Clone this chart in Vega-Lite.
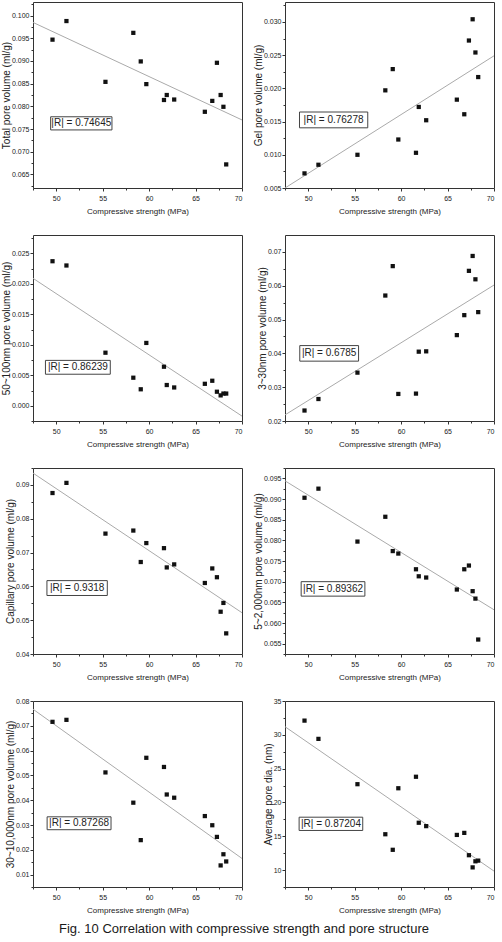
{
  "$schema": "https://vega.github.io/schema/vega-lite/v6.json",
  "padding": {"left": 0, "top": 1, "right": 5, "bottom": 0},
  "background": "white",
  "bounds": "flush",
  "columns": 2,
  "spacing": {"row": 47, "column": 43},
  "title": {"text": "Fig. 10 Correlation with compressive strength and pore structure", "orient": "bottom", "anchor": "middle", "fontSize": 13, "fontWeight": "normal", "font": "Liberation Sans", "color": "#1a1a1a", "offset": 8, "dx": -4},
  "config": {
    "view": {"stroke": "#333", "strokeWidth": 1},
    "axis": {"grid": false, "domain": false, "tickColor": "#333", "tickSize": 3, "labelFont": "Liberation Sans", "labelFontSize": 7, "labelColor": "#222", "labelPadding": 1, "titleFont": "Liberation Sans", "titleFontSize": 10, "titleFontWeight": "normal", "titleColor": "#222", "titlePadding": 0},
    "axisX": {"titleFontSize": 8, "titlePadding": 6, "labelPadding": 3}
  },
  "datasets": {
    "points": [
      {"panel": "total", "strength": 49.6, "value": 0.0947}, {"panel": "total", "strength": 51.1, "value": 0.0988}, {"panel": "total", "strength": 55.3, "value": 0.0854}, {"panel": "total", "strength": 58.3, "value": 0.0962}, {"panel": "total", "strength": 59.1, "value": 0.0899}, {"panel": "total", "strength": 59.7, "value": 0.0849}, {"panel": "total", "strength": 61.6, "value": 0.0814}, {"panel": "total", "strength": 61.9, "value": 0.0825}, {"panel": "total", "strength": 62.7, "value": 0.0815}, {"panel": "total", "strength": 66.0, "value": 0.0788}, {"panel": "total", "strength": 66.8, "value": 0.0812}, {"panel": "total", "strength": 67.3, "value": 0.0896}, {"panel": "total", "strength": 67.7, "value": 0.0825}, {"panel": "total", "strength": 68.0, "value": 0.0799}, {"panel": "total", "strength": 68.3, "value": 0.0672},
      {"panel": "gel", "strength": 49.6, "value": 0.0072}, {"panel": "gel", "strength": 51.1, "value": 0.0085}, {"panel": "gel", "strength": 55.3, "value": 0.0100}, {"panel": "gel", "strength": 58.3, "value": 0.0197}, {"panel": "gel", "strength": 59.1, "value": 0.0229}, {"panel": "gel", "strength": 59.7, "value": 0.0123}, {"panel": "gel", "strength": 61.6, "value": 0.0103}, {"panel": "gel", "strength": 61.9, "value": 0.0172}, {"panel": "gel", "strength": 62.7, "value": 0.0152}, {"panel": "gel", "strength": 66.0, "value": 0.0183}, {"panel": "gel", "strength": 66.8, "value": 0.0161}, {"panel": "gel", "strength": 67.3, "value": 0.0272}, {"panel": "gel", "strength": 67.7, "value": 0.0304}, {"panel": "gel", "strength": 68.0, "value": 0.0254}, {"panel": "gel", "strength": 68.3, "value": 0.0217},
      {"panel": "p50", "strength": 49.6, "value": 0.0237}, {"panel": "p50", "strength": 51.1, "value": 0.0230}, {"panel": "p50", "strength": 55.3, "value": 0.0087}, {"panel": "p50", "strength": 58.3, "value": 0.0046}, {"panel": "p50", "strength": 59.1, "value": 0.0027}, {"panel": "p50", "strength": 59.7, "value": 0.0103}, {"panel": "p50", "strength": 61.6, "value": 0.0064}, {"panel": "p50", "strength": 61.9, "value": 0.0034}, {"panel": "p50", "strength": 62.7, "value": 0.0030}, {"panel": "p50", "strength": 66.0, "value": 0.0036}, {"panel": "p50", "strength": 66.8, "value": 0.0041}, {"panel": "p50", "strength": 67.3, "value": 0.0023}, {"panel": "p50", "strength": 67.7, "value": 0.0017}, {"panel": "p50", "strength": 68.0, "value": 0.0020}, {"panel": "p50", "strength": 68.3, "value": 0.0020},
      {"panel": "p3", "strength": 49.6, "value": 0.0231}, {"panel": "p3", "strength": 51.1, "value": 0.0265}, {"panel": "p3", "strength": 55.3, "value": 0.0343}, {"panel": "p3", "strength": 58.3, "value": 0.0571}, {"panel": "p3", "strength": 59.1, "value": 0.0658}, {"panel": "p3", "strength": 59.7, "value": 0.0280}, {"panel": "p3", "strength": 61.6, "value": 0.0281}, {"panel": "p3", "strength": 61.9, "value": 0.0405}, {"panel": "p3", "strength": 62.7, "value": 0.0406}, {"panel": "p3", "strength": 66.0, "value": 0.0454}, {"panel": "p3", "strength": 66.8, "value": 0.0513}, {"panel": "p3", "strength": 67.3, "value": 0.0644}, {"panel": "p3", "strength": 67.7, "value": 0.0688}, {"panel": "p3", "strength": 68.0, "value": 0.0619}, {"panel": "p3", "strength": 68.3, "value": 0.0522},
      {"panel": "cap", "strength": 49.6, "value": 0.0876}, {"panel": "cap", "strength": 51.1, "value": 0.0906}, {"panel": "cap", "strength": 55.3, "value": 0.0756}, {"panel": "cap", "strength": 58.3, "value": 0.0765}, {"panel": "cap", "strength": 59.1, "value": 0.0672}, {"panel": "cap", "strength": 59.7, "value": 0.0728}, {"panel": "cap", "strength": 61.6, "value": 0.0713}, {"panel": "cap", "strength": 61.9, "value": 0.0656}, {"panel": "cap", "strength": 62.7, "value": 0.0665}, {"panel": "cap", "strength": 66.0, "value": 0.0610}, {"panel": "cap", "strength": 66.8, "value": 0.0653}, {"panel": "cap", "strength": 67.3, "value": 0.0627}, {"panel": "cap", "strength": 67.7, "value": 0.0525}, {"panel": "cap", "strength": 68.0, "value": 0.0551}, {"panel": "cap", "strength": 68.3, "value": 0.0461},
      {"panel": "p5", "strength": 49.6, "value": 0.0903}, {"panel": "p5", "strength": 51.1, "value": 0.0925}, {"panel": "p5", "strength": 55.3, "value": 0.0797}, {"panel": "p5", "strength": 58.3, "value": 0.0857}, {"panel": "p5", "strength": 59.1, "value": 0.0774}, {"panel": "p5", "strength": 59.7, "value": 0.0768}, {"panel": "p5", "strength": 61.6, "value": 0.0730}, {"panel": "p5", "strength": 61.9, "value": 0.0713}, {"panel": "p5", "strength": 62.7, "value": 0.0710}, {"panel": "p5", "strength": 66.0, "value": 0.0681}, {"panel": "p5", "strength": 66.8, "value": 0.0730}, {"panel": "p5", "strength": 67.3, "value": 0.0739}, {"panel": "p5", "strength": 67.7, "value": 0.0677}, {"panel": "p5", "strength": 68.0, "value": 0.0659}, {"panel": "p5", "strength": 68.3, "value": 0.0560},
      {"panel": "p30", "strength": 49.6, "value": 0.0716}, {"panel": "p30", "strength": 51.1, "value": 0.0724}, {"panel": "p30", "strength": 55.3, "value": 0.0512}, {"panel": "p30", "strength": 58.3, "value": 0.0390}, {"panel": "p30", "strength": 59.1, "value": 0.0239}, {"panel": "p30", "strength": 59.7, "value": 0.0571}, {"panel": "p30", "strength": 61.6, "value": 0.0534}, {"panel": "p30", "strength": 61.9, "value": 0.0423}, {"panel": "p30", "strength": 62.7, "value": 0.0410}, {"panel": "p30", "strength": 66.0, "value": 0.0336}, {"panel": "p30", "strength": 66.8, "value": 0.0299}, {"panel": "p30", "strength": 67.3, "value": 0.0252}, {"panel": "p30", "strength": 67.7, "value": 0.0137}, {"panel": "p30", "strength": 68.0, "value": 0.0182}, {"panel": "p30", "strength": 68.3, "value": 0.0153},
      {"panel": "dia", "strength": 49.6, "value": 32.1}, {"panel": "dia", "strength": 51.1, "value": 29.4}, {"panel": "dia", "strength": 55.3, "value": 22.7}, {"panel": "dia", "strength": 58.3, "value": 15.3}, {"panel": "dia", "strength": 59.1, "value": 13.0}, {"panel": "dia", "strength": 59.7, "value": 22.1}, {"panel": "dia", "strength": 61.6, "value": 23.8}, {"panel": "dia", "strength": 61.9, "value": 17.0}, {"panel": "dia", "strength": 62.7, "value": 16.5}, {"panel": "dia", "strength": 66.0, "value": 15.2}, {"panel": "dia", "strength": 66.8, "value": 15.5}, {"panel": "dia", "strength": 67.3, "value": 12.2}, {"panel": "dia", "strength": 67.7, "value": 10.4}, {"panel": "dia", "strength": 68.0, "value": 11.3}, {"panel": "dia", "strength": 68.3, "value": 11.4}
    ],
    "fits": [
      {"panel": "total", "strength": 47.5, "value": 0.0985}, {"panel": "total", "strength": 70, "value": 0.0770},
      {"panel": "gel", "strength": 47.5, "value": 0.0050}, {"panel": "gel", "strength": 70, "value": 0.0249},
      {"panel": "p50", "strength": 47.5, "value": 0.0209}, {"panel": "p50", "strength": 70, "value": -0.0017},
      {"panel": "p3", "strength": 47.5, "value": 0.0218}, {"panel": "p3", "strength": 70, "value": 0.0602},
      {"panel": "cap", "strength": 47.5, "value": 0.0935}, {"panel": "cap", "strength": 70, "value": 0.0522},
      {"panel": "p5", "strength": 47.5, "value": 0.0944}, {"panel": "p5", "strength": 70, "value": 0.0632},
      {"panel": "p30", "strength": 47.5, "value": 0.0767}, {"panel": "p30", "strength": 70, "value": 0.0165},
      {"panel": "dia", "strength": 47.5, "value": 31.2}, {"panel": "dia", "strength": 70, "value": 9.85}
    ],
    "notes": [
      {"panel": "total", "label": "|R| = 0.74645", "x1": 49.4, "x2": 56.0, "y1": 0.0748, "y2": 0.0777, "tx": 52.7, "ty": 0.07625},
      {"panel": "gel", "label": "|R| = 0.76278", "x1": 49.06, "x2": 56.41, "y1": 0.01406, "y2": 0.01644, "tx": 52.73, "ty": 0.01525},
      {"panel": "p50", "label": "|R| = 0.86239", "x1": 48.84, "x2": 55.82, "y1": 0.00517, "y2": 0.00744, "tx": 52.33, "ty": 0.0063},
      {"panel": "p3", "label": "|R| = 0.6785", "x1": 49.09, "x2": 55.42, "y1": 0.0377, "y2": 0.0423, "tx": 52.25, "ty": 0.0400},
      {"panel": "cap", "label": "|R| = 0.9318", "x1": 49.0, "x2": 55.5, "y1": 0.0573, "y2": 0.0617, "tx": 52.25, "ty": 0.0595},
      {"panel": "p5", "label": "|R| = 0.89362", "x1": 49.24, "x2": 56.1, "y1": 0.0665, "y2": 0.0700, "tx": 52.67, "ty": 0.06825},
      {"panel": "p30", "label": "|R| = 0.87268", "x1": 49.02, "x2": 55.9, "y1": 0.0281, "y2": 0.0333, "tx": 52.46, "ty": 0.0307},
      {"panel": "dia", "label": "|R| = 0.87204", "x1": 49.02, "x2": 55.87, "y1": 15.86, "y2": 17.82, "tx": 52.45, "ty": 16.84}
    ]
  },
  "concat": [
    {
      "width": 209, "height": 186,
      "resolve": {"axis": {"x": "independent", "y": "independent"}},
      "layer": [
        {"data": {"name": "fits"}, "transform": [{"filter": "datum.panel === 'total'"}],
         "mark": {"type": "line", "color": "#aaaaaa", "strokeWidth": 1, "clip": true},
         "encoding": {
           "x": {"field": "strength", "type": "quantitative", "scale": {"domain": [47.5, 70], "nice": false, "zero": false}, "axis": {"orient": "bottom", "values": [47.5, 52.5, 57.5, 62.5, 67.5], "labels": false, "title": null, "tickSize": 2}},
           "y": {"field": "value", "type": "quantitative", "scale": {"domain": [0.062, 0.103], "nice": false, "zero": false}, "axis": {"orient": "left", "values": [0.0625, 0.0675, 0.0725, 0.0775, 0.0825, 0.0875, 0.0925, 0.0975, 0.1025], "labels": false, "title": null, "tickSize": 2}}}},
        {"data": {"name": "notes"}, "transform": [{"filter": "datum.panel === 'total'"}],
         "mark": {"type": "rect", "fill": "white", "stroke": "#444", "strokeWidth": 1},
         "encoding": {
           "x": {"field": "x1", "type": "quantitative", "scale": {"domain": [47.5, 70], "nice": false, "zero": false}, "axis": null}, "x2": {"field": "x2"},
           "y": {"field": "y1", "type": "quantitative", "scale": {"domain": [0.062, 0.103], "nice": false, "zero": false}, "axis": null}, "y2": {"field": "y2"}}},
        {"data": {"name": "notes"}, "transform": [{"filter": "datum.panel === 'total'"}],
         "mark": {"type": "text", "font": "Liberation Sans", "fontSize": 10, "color": "#222", "baseline": "middle", "align": "center"},
         "encoding": {
           "x": {"field": "tx", "type": "quantitative", "scale": {"domain": [47.5, 70], "nice": false, "zero": false}, "axis": null},
           "y": {"field": "ty", "type": "quantitative", "scale": {"domain": [0.062, 0.103], "nice": false, "zero": false}, "axis": null},
           "text": {"field": "label"}}},
        {"data": {"name": "points"}, "transform": [{"filter": "datum.panel === 'total'"}],
         "mark": {"type": "square", "filled": true, "color": "#111", "size": 18, "opacity": 1},
         "encoding": {
           "x": {"field": "strength", "type": "quantitative", "scale": {"domain": [47.5, 70], "nice": false, "zero": false}, "axis": {"orient": "bottom", "values": [50, 55, 60, 65, 70], "title": "Compressive strength (MPa)"}},
           "y": {"field": "value", "type": "quantitative", "scale": {"domain": [0.062, 0.103], "nice": false, "zero": false}, "axis": {"orient": "left", "values": [0.065, 0.07, 0.075, 0.08, 0.085, 0.09, 0.095, 0.1], "format": ".3f", "title": "Total pore volume (ml/g)"}}}}
      ]
    },
    {
      "width": 209, "height": 186,
      "resolve": {"axis": {"x": "independent", "y": "independent"}},
      "layer": [
        {"data": {"name": "fits"}, "transform": [{"filter": "datum.panel === 'gel'"}],
         "mark": {"type": "line", "color": "#aaaaaa", "strokeWidth": 1, "clip": true},
         "encoding": {
           "x": {"field": "strength", "type": "quantitative", "scale": {"domain": [47.5, 70], "nice": false, "zero": false}, "axis": {"orient": "bottom", "values": [47.5, 52.5, 57.5, 62.5, 67.5], "labels": false, "title": null, "tickSize": 2}},
           "y": {"field": "value", "type": "quantitative", "scale": {"domain": [0.005, 0.033], "nice": false, "zero": false}, "axis": {"orient": "left", "values": [0.0075, 0.0125, 0.0175, 0.0225, 0.0275, 0.0325], "labels": false, "title": null, "tickSize": 2}}}},
        {"data": {"name": "notes"}, "transform": [{"filter": "datum.panel === 'gel'"}],
         "mark": {"type": "rect", "fill": "white", "stroke": "#444", "strokeWidth": 1},
         "encoding": {
           "x": {"field": "x1", "type": "quantitative", "scale": {"domain": [47.5, 70], "nice": false, "zero": false}, "axis": null}, "x2": {"field": "x2"},
           "y": {"field": "y1", "type": "quantitative", "scale": {"domain": [0.005, 0.033], "nice": false, "zero": false}, "axis": null}, "y2": {"field": "y2"}}},
        {"data": {"name": "notes"}, "transform": [{"filter": "datum.panel === 'gel'"}],
         "mark": {"type": "text", "font": "Liberation Sans", "fontSize": 10, "color": "#222", "baseline": "middle", "align": "center"},
         "encoding": {
           "x": {"field": "tx", "type": "quantitative", "scale": {"domain": [47.5, 70], "nice": false, "zero": false}, "axis": null},
           "y": {"field": "ty", "type": "quantitative", "scale": {"domain": [0.005, 0.033], "nice": false, "zero": false}, "axis": null},
           "text": {"field": "label"}}},
        {"data": {"name": "points"}, "transform": [{"filter": "datum.panel === 'gel'"}],
         "mark": {"type": "square", "filled": true, "color": "#111", "size": 18, "opacity": 1},
         "encoding": {
           "x": {"field": "strength", "type": "quantitative", "scale": {"domain": [47.5, 70], "nice": false, "zero": false}, "axis": {"orient": "bottom", "values": [50, 55, 60, 65, 70], "title": "Compressive strength (MPa)"}},
           "y": {"field": "value", "type": "quantitative", "scale": {"domain": [0.005, 0.033], "nice": false, "zero": false}, "axis": {"orient": "left", "values": [0.005, 0.01, 0.015, 0.02, 0.025, 0.03], "format": ".3f", "title": "Gel pore volume (ml/g)"}}}}
      ]
    },
    {
      "width": 209, "height": 186,
      "resolve": {"axis": {"x": "independent", "y": "independent"}},
      "layer": [
        {"data": {"name": "fits"}, "transform": [{"filter": "datum.panel === 'p50'"}],
         "mark": {"type": "line", "color": "#aaaaaa", "strokeWidth": 1, "clip": true},
         "encoding": {
           "x": {"field": "strength", "type": "quantitative", "scale": {"domain": [47.5, 70], "nice": false, "zero": false}, "axis": {"orient": "bottom", "values": [47.5, 52.5, 57.5, 62.5, 67.5], "labels": false, "title": null, "tickSize": 2}},
           "y": {"field": "value", "type": "quantitative", "scale": {"domain": [-0.0025, 0.028], "nice": false, "zero": false}, "axis": {"orient": "left", "values": [-0.0025, 0.0025, 0.0075, 0.0125, 0.0175, 0.0225, 0.0275], "labels": false, "title": null, "tickSize": 2}}}},
        {"data": {"name": "notes"}, "transform": [{"filter": "datum.panel === 'p50'"}],
         "mark": {"type": "rect", "fill": "white", "stroke": "#444", "strokeWidth": 1},
         "encoding": {
           "x": {"field": "x1", "type": "quantitative", "scale": {"domain": [47.5, 70], "nice": false, "zero": false}, "axis": null}, "x2": {"field": "x2"},
           "y": {"field": "y1", "type": "quantitative", "scale": {"domain": [-0.0025, 0.028], "nice": false, "zero": false}, "axis": null}, "y2": {"field": "y2"}}},
        {"data": {"name": "notes"}, "transform": [{"filter": "datum.panel === 'p50'"}],
         "mark": {"type": "text", "font": "Liberation Sans", "fontSize": 10, "color": "#222", "baseline": "middle", "align": "center"},
         "encoding": {
           "x": {"field": "tx", "type": "quantitative", "scale": {"domain": [47.5, 70], "nice": false, "zero": false}, "axis": null},
           "y": {"field": "ty", "type": "quantitative", "scale": {"domain": [-0.0025, 0.028], "nice": false, "zero": false}, "axis": null},
           "text": {"field": "label"}}},
        {"data": {"name": "points"}, "transform": [{"filter": "datum.panel === 'p50'"}],
         "mark": {"type": "square", "filled": true, "color": "#111", "size": 18, "opacity": 1},
         "encoding": {
           "x": {"field": "strength", "type": "quantitative", "scale": {"domain": [47.5, 70], "nice": false, "zero": false}, "axis": {"orient": "bottom", "values": [50, 55, 60, 65, 70], "title": "Compressive strength (MPa)"}},
           "y": {"field": "value", "type": "quantitative", "scale": {"domain": [-0.0025, 0.028], "nice": false, "zero": false}, "axis": {"orient": "left", "values": [0, 0.005, 0.01, 0.015, 0.02, 0.025], "format": ".3f", "title": "50~100nm pore volume (ml/g)"}}}}
      ]
    },
    {
      "width": 209, "height": 186,
      "resolve": {"axis": {"x": "independent", "y": "independent"}},
      "layer": [
        {"data": {"name": "fits"}, "transform": [{"filter": "datum.panel === 'p3'"}],
         "mark": {"type": "line", "color": "#aaaaaa", "strokeWidth": 1, "clip": true},
         "encoding": {
           "x": {"field": "strength", "type": "quantitative", "scale": {"domain": [47.5, 70], "nice": false, "zero": false}, "axis": {"orient": "bottom", "values": [47.5, 52.5, 57.5, 62.5, 67.5], "labels": false, "title": null, "tickSize": 2}},
           "y": {"field": "value", "type": "quantitative", "scale": {"domain": [0.02, 0.075], "nice": false, "zero": false}, "axis": {"orient": "left", "values": [0.025, 0.035, 0.045, 0.055, 0.065], "labels": false, "title": null, "tickSize": 2}}}},
        {"data": {"name": "notes"}, "transform": [{"filter": "datum.panel === 'p3'"}],
         "mark": {"type": "rect", "fill": "white", "stroke": "#444", "strokeWidth": 1},
         "encoding": {
           "x": {"field": "x1", "type": "quantitative", "scale": {"domain": [47.5, 70], "nice": false, "zero": false}, "axis": null}, "x2": {"field": "x2"},
           "y": {"field": "y1", "type": "quantitative", "scale": {"domain": [0.02, 0.075], "nice": false, "zero": false}, "axis": null}, "y2": {"field": "y2"}}},
        {"data": {"name": "notes"}, "transform": [{"filter": "datum.panel === 'p3'"}],
         "mark": {"type": "text", "font": "Liberation Sans", "fontSize": 10, "color": "#222", "baseline": "middle", "align": "center"},
         "encoding": {
           "x": {"field": "tx", "type": "quantitative", "scale": {"domain": [47.5, 70], "nice": false, "zero": false}, "axis": null},
           "y": {"field": "ty", "type": "quantitative", "scale": {"domain": [0.02, 0.075], "nice": false, "zero": false}, "axis": null},
           "text": {"field": "label"}}},
        {"data": {"name": "points"}, "transform": [{"filter": "datum.panel === 'p3'"}],
         "mark": {"type": "square", "filled": true, "color": "#111", "size": 18, "opacity": 1},
         "encoding": {
           "x": {"field": "strength", "type": "quantitative", "scale": {"domain": [47.5, 70], "nice": false, "zero": false}, "axis": {"orient": "bottom", "values": [50, 55, 60, 65, 70], "title": "Compressive strength (MPa)"}},
           "y": {"field": "value", "type": "quantitative", "scale": {"domain": [0.02, 0.075], "nice": false, "zero": false}, "axis": {"orient": "left", "values": [0.02, 0.03, 0.04, 0.05, 0.06, 0.07], "format": ".2f", "title": "3~30nm pore volume (ml/g)"}}}}
      ]
    },
    {
      "width": 209, "height": 186,
      "resolve": {"axis": {"x": "independent", "y": "independent"}},
      "layer": [
        {"data": {"name": "fits"}, "transform": [{"filter": "datum.panel === 'cap'"}],
         "mark": {"type": "line", "color": "#aaaaaa", "strokeWidth": 1, "clip": true},
         "encoding": {
           "x": {"field": "strength", "type": "quantitative", "scale": {"domain": [47.5, 70], "nice": false, "zero": false}, "axis": {"orient": "bottom", "values": [47.5, 52.5, 57.5, 62.5, 67.5], "labels": false, "title": null, "tickSize": 2}},
           "y": {"field": "value", "type": "quantitative", "scale": {"domain": [0.04, 0.095], "nice": false, "zero": false}, "axis": {"orient": "left", "values": [0.045, 0.055, 0.065, 0.075, 0.085, 0.095], "labels": false, "title": null, "tickSize": 2}}}},
        {"data": {"name": "notes"}, "transform": [{"filter": "datum.panel === 'cap'"}],
         "mark": {"type": "rect", "fill": "white", "stroke": "#444", "strokeWidth": 1},
         "encoding": {
           "x": {"field": "x1", "type": "quantitative", "scale": {"domain": [47.5, 70], "nice": false, "zero": false}, "axis": null}, "x2": {"field": "x2"},
           "y": {"field": "y1", "type": "quantitative", "scale": {"domain": [0.04, 0.095], "nice": false, "zero": false}, "axis": null}, "y2": {"field": "y2"}}},
        {"data": {"name": "notes"}, "transform": [{"filter": "datum.panel === 'cap'"}],
         "mark": {"type": "text", "font": "Liberation Sans", "fontSize": 10, "color": "#222", "baseline": "middle", "align": "center"},
         "encoding": {
           "x": {"field": "tx", "type": "quantitative", "scale": {"domain": [47.5, 70], "nice": false, "zero": false}, "axis": null},
           "y": {"field": "ty", "type": "quantitative", "scale": {"domain": [0.04, 0.095], "nice": false, "zero": false}, "axis": null},
           "text": {"field": "label"}}},
        {"data": {"name": "points"}, "transform": [{"filter": "datum.panel === 'cap'"}],
         "mark": {"type": "square", "filled": true, "color": "#111", "size": 18, "opacity": 1},
         "encoding": {
           "x": {"field": "strength", "type": "quantitative", "scale": {"domain": [47.5, 70], "nice": false, "zero": false}, "axis": {"orient": "bottom", "values": [50, 55, 60, 65, 70], "title": "Compressive strength (MPa)"}},
           "y": {"field": "value", "type": "quantitative", "scale": {"domain": [0.04, 0.095], "nice": false, "zero": false}, "axis": {"orient": "left", "values": [0.04, 0.05, 0.06, 0.07, 0.08, 0.09], "format": ".2f", "title": "Capillary pore volume (ml/g)"}}}}
      ]
    },
    {
      "width": 209, "height": 186,
      "resolve": {"axis": {"x": "independent", "y": "independent"}},
      "layer": [
        {"data": {"name": "fits"}, "transform": [{"filter": "datum.panel === 'p5'"}],
         "mark": {"type": "line", "color": "#aaaaaa", "strokeWidth": 1, "clip": true},
         "encoding": {
           "x": {"field": "strength", "type": "quantitative", "scale": {"domain": [47.5, 70], "nice": false, "zero": false}, "axis": {"orient": "bottom", "values": [47.5, 52.5, 57.5, 62.5, 67.5], "labels": false, "title": null, "tickSize": 2}},
           "y": {"field": "value", "type": "quantitative", "scale": {"domain": [0.0525, 0.0975], "nice": false, "zero": false}, "axis": {"orient": "left", "values": [0.0525, 0.0575, 0.0625, 0.0675, 0.0725, 0.0775, 0.0825, 0.0875, 0.0925, 0.0975], "labels": false, "title": null, "tickSize": 2}}}},
        {"data": {"name": "notes"}, "transform": [{"filter": "datum.panel === 'p5'"}],
         "mark": {"type": "rect", "fill": "white", "stroke": "#444", "strokeWidth": 1},
         "encoding": {
           "x": {"field": "x1", "type": "quantitative", "scale": {"domain": [47.5, 70], "nice": false, "zero": false}, "axis": null}, "x2": {"field": "x2"},
           "y": {"field": "y1", "type": "quantitative", "scale": {"domain": [0.0525, 0.0975], "nice": false, "zero": false}, "axis": null}, "y2": {"field": "y2"}}},
        {"data": {"name": "notes"}, "transform": [{"filter": "datum.panel === 'p5'"}],
         "mark": {"type": "text", "font": "Liberation Sans", "fontSize": 10, "color": "#222", "baseline": "middle", "align": "center"},
         "encoding": {
           "x": {"field": "tx", "type": "quantitative", "scale": {"domain": [47.5, 70], "nice": false, "zero": false}, "axis": null},
           "y": {"field": "ty", "type": "quantitative", "scale": {"domain": [0.0525, 0.0975], "nice": false, "zero": false}, "axis": null},
           "text": {"field": "label"}}},
        {"data": {"name": "points"}, "transform": [{"filter": "datum.panel === 'p5'"}],
         "mark": {"type": "square", "filled": true, "color": "#111", "size": 18, "opacity": 1},
         "encoding": {
           "x": {"field": "strength", "type": "quantitative", "scale": {"domain": [47.5, 70], "nice": false, "zero": false}, "axis": {"orient": "bottom", "values": [50, 55, 60, 65, 70], "title": "Compressive strength (MPa)"}},
           "y": {"field": "value", "type": "quantitative", "scale": {"domain": [0.0525, 0.0975], "nice": false, "zero": false}, "axis": {"orient": "left", "values": [0.055, 0.06, 0.065, 0.07, 0.075, 0.08, 0.085, 0.09, 0.095], "format": ".3f", "title": "5~2,000nm pore volume (ml/g)"}}}}
      ]
    },
    {
      "width": 209, "height": 186,
      "resolve": {"axis": {"x": "independent", "y": "independent"}},
      "layer": [
        {"data": {"name": "fits"}, "transform": [{"filter": "datum.panel === 'p30'"}],
         "mark": {"type": "line", "color": "#aaaaaa", "strokeWidth": 1, "clip": true},
         "encoding": {
           "x": {"field": "strength", "type": "quantitative", "scale": {"domain": [47.5, 70], "nice": false, "zero": false}, "axis": {"orient": "bottom", "values": [47.5, 52.5, 57.5, 62.5, 67.5], "labels": false, "title": null, "tickSize": 2}},
           "y": {"field": "value", "type": "quantitative", "scale": {"domain": [0.005, 0.08], "nice": false, "zero": false}, "axis": {"orient": "left", "values": [0.005, 0.015, 0.025, 0.035, 0.045, 0.055, 0.065, 0.075], "labels": false, "title": null, "tickSize": 2}}}},
        {"data": {"name": "notes"}, "transform": [{"filter": "datum.panel === 'p30'"}],
         "mark": {"type": "rect", "fill": "white", "stroke": "#444", "strokeWidth": 1},
         "encoding": {
           "x": {"field": "x1", "type": "quantitative", "scale": {"domain": [47.5, 70], "nice": false, "zero": false}, "axis": null}, "x2": {"field": "x2"},
           "y": {"field": "y1", "type": "quantitative", "scale": {"domain": [0.005, 0.08], "nice": false, "zero": false}, "axis": null}, "y2": {"field": "y2"}}},
        {"data": {"name": "notes"}, "transform": [{"filter": "datum.panel === 'p30'"}],
         "mark": {"type": "text", "font": "Liberation Sans", "fontSize": 10, "color": "#222", "baseline": "middle", "align": "center"},
         "encoding": {
           "x": {"field": "tx", "type": "quantitative", "scale": {"domain": [47.5, 70], "nice": false, "zero": false}, "axis": null},
           "y": {"field": "ty", "type": "quantitative", "scale": {"domain": [0.005, 0.08], "nice": false, "zero": false}, "axis": null},
           "text": {"field": "label"}}},
        {"data": {"name": "points"}, "transform": [{"filter": "datum.panel === 'p30'"}],
         "mark": {"type": "square", "filled": true, "color": "#111", "size": 18, "opacity": 1},
         "encoding": {
           "x": {"field": "strength", "type": "quantitative", "scale": {"domain": [47.5, 70], "nice": false, "zero": false}, "axis": {"orient": "bottom", "values": [50, 55, 60, 65, 70], "title": "Compressive strength (MPa)"}},
           "y": {"field": "value", "type": "quantitative", "scale": {"domain": [0.005, 0.08], "nice": false, "zero": false}, "axis": {"orient": "left", "values": [0.01, 0.02, 0.03, 0.04, 0.05, 0.06, 0.07, 0.08], "format": ".2f", "title": "30~10,000nm pore volume (ml/g)"}}}}
      ]
    },
    {
      "width": 209, "height": 186,
      "resolve": {"axis": {"x": "independent", "y": "independent"}},
      "layer": [
        {"data": {"name": "fits"}, "transform": [{"filter": "datum.panel === 'dia'"}],
         "mark": {"type": "line", "color": "#aaaaaa", "strokeWidth": 1, "clip": true},
         "encoding": {
           "x": {"field": "strength", "type": "quantitative", "scale": {"domain": [47.5, 70], "nice": false, "zero": false}, "axis": {"orient": "bottom", "values": [47.5, 52.5, 57.5, 62.5, 67.5], "labels": false, "title": null, "tickSize": 2}},
           "y": {"field": "value", "type": "quantitative", "scale": {"domain": [7.5, 35], "nice": false, "zero": false}, "axis": {"orient": "left", "values": [7.5, 12.5, 17.5, 22.5, 27.5, 32.5], "labels": false, "title": null, "tickSize": 2}}}},
        {"data": {"name": "notes"}, "transform": [{"filter": "datum.panel === 'dia'"}],
         "mark": {"type": "rect", "fill": "white", "stroke": "#444", "strokeWidth": 1},
         "encoding": {
           "x": {"field": "x1", "type": "quantitative", "scale": {"domain": [47.5, 70], "nice": false, "zero": false}, "axis": null}, "x2": {"field": "x2"},
           "y": {"field": "y1", "type": "quantitative", "scale": {"domain": [7.5, 35], "nice": false, "zero": false}, "axis": null}, "y2": {"field": "y2"}}},
        {"data": {"name": "notes"}, "transform": [{"filter": "datum.panel === 'dia'"}],
         "mark": {"type": "text", "font": "Liberation Sans", "fontSize": 10, "color": "#222", "baseline": "middle", "align": "center"},
         "encoding": {
           "x": {"field": "tx", "type": "quantitative", "scale": {"domain": [47.5, 70], "nice": false, "zero": false}, "axis": null},
           "y": {"field": "ty", "type": "quantitative", "scale": {"domain": [7.5, 35], "nice": false, "zero": false}, "axis": null},
           "text": {"field": "label"}}},
        {"data": {"name": "points"}, "transform": [{"filter": "datum.panel === 'dia'"}],
         "mark": {"type": "square", "filled": true, "color": "#111", "size": 18, "opacity": 1},
         "encoding": {
           "x": {"field": "strength", "type": "quantitative", "scale": {"domain": [47.5, 70], "nice": false, "zero": false}, "axis": {"orient": "bottom", "values": [50, 55, 60, 65, 70], "title": "Compressive strength (MPa)"}},
           "y": {"field": "value", "type": "quantitative", "scale": {"domain": [7.5, 35], "nice": false, "zero": false}, "axis": {"orient": "left", "values": [10, 15, 20, 25, 30, 35], "format": "d", "title": "Average pore dia. (nm)"}}}}
      ]
    }
  ]
}
